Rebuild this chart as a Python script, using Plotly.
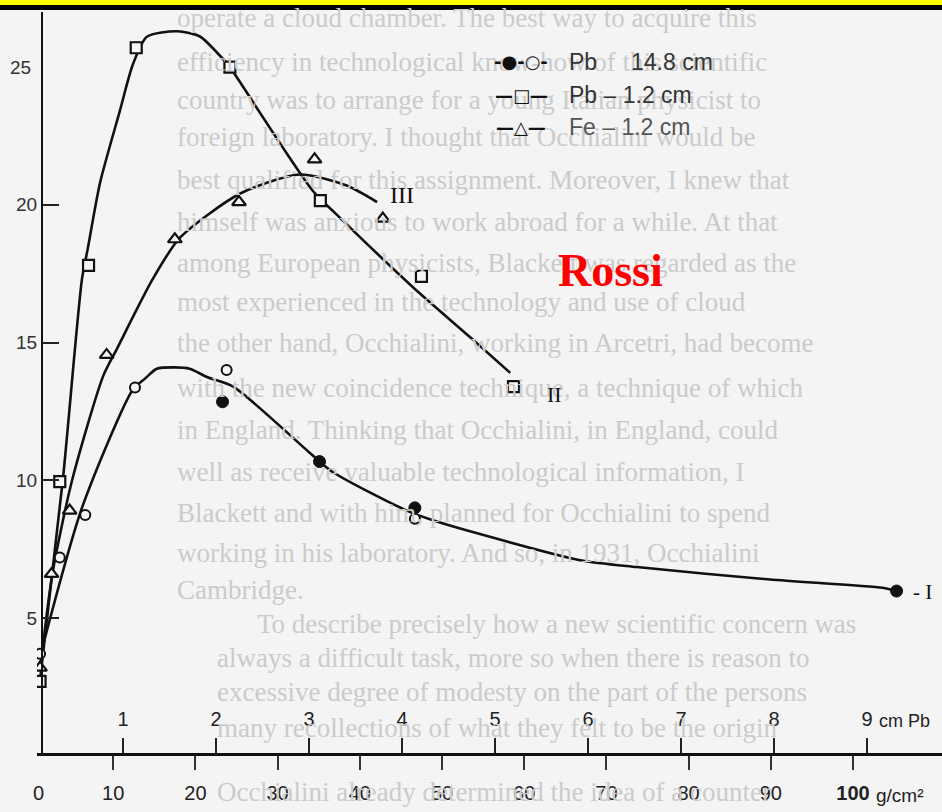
import plotly.graph_objects as go

W, H = 942, 812

# ---------------- data (x in g/cm^2) ----------------
# Pb - 1.2 cm (squares, curve II)
sq_x = [1.1, 3.5, 7.0, 12.8, 24.2, 35.2, 47.5, 58.7]
sq_y = [2.7, 9.95, 17.8, 25.7, 25.0, 20.15, 17.4, 13.4]
# Fe - 1.2 cm (triangles, curve III)
tri_x = [1.1, 2.5, 4.7, 9.2, 17.5, 25.3, 34.5, 42.8]
tri_y = [3.2, 6.6, 8.9, 14.55, 18.75, 20.1, 21.65, 19.5]
# Pb 14.8 cm (open and filled circles, curve I)
oc_x = [1.1, 3.5, 6.6, 12.65, 23.8, 46.7]
oc_y = [3.7, 7.2, 8.74, 13.37, 14.0, 8.6]
fc_x = [23.3, 35.1, 46.7, 105.3]
fc_y = [12.85, 10.68, 9.0, 5.98]

# hand-drawn smooth curves through the points
c2_x = [1.1, 3.9, 6.2, 6.9, 8.4, 10.8, 12.4, 14.1, 17.8, 20.6, 22.7, 24.2, 25.1, 34.3, 37.0, 46.5, 53.4, 58.3]
c2_y = [2.75, 10.1, 17.3, 18.4, 20.8, 23.4, 25.1, 26.1, 26.3, 26.1, 25.5, 25.0, 24.6, 20.5, 19.7, 17.0, 15.2, 13.9]
c3_x = [1.1, 2.6, 5.0, 8.8, 10.5, 14.8, 18.1, 25.4, 32.7, 38.4, 42.1]
c3_y = [3.1, 6.6, 10.0, 13.8, 14.8, 17.3, 18.8, 20.4, 21.1, 20.7, 20.1]
c1_x = [1.1, 6.2, 12.4, 13.9, 15.3, 17.5, 19.3, 21.4, 24.6, 33.9, 36.7, 45.7, 48.9, 53.4, 66.8, 73.7, 89.9, 103.6, 105.3]
c1_y = [3.6, 9.0, 13.3, 13.7, 14.05, 14.1, 14.05, 13.75, 13.4, 11.0, 10.3, 8.9, 8.55, 8.15, 7.1, 6.85, 6.4, 6.1, 5.98]

# axes
g_ticks = [10, 20, 30, 40, 50, 60, 70, 80, 90, 100]
cm_ticks = [1, 2, 3, 4, 5, 6, 7, 8, 9]
y_ticks = [5, 10, 15, 20]

legend_sym = ["<b>-●-○-</b>", "<b>—□—</b>", "<b>—△—</b>"]
legend_mat = ["Pb", "Pb – 1.2 cm", "Fe – 1.2 cm"]
legend_thk = ["14.8 cm", "", ""]

# faint text of the scanned book page behind the figure
page_lines = [
    "operate a cloud chamber. The best way to acquire this",
    "efficiency in technological know-how of this scientific",
    "country was to arrange for a young Italian physicist to",
    "foreign laboratory. I thought that Occhialini would be",
    "best qualified for this assignment. Moreover, I knew that",
    "himself was anxious to work abroad for a while. At that",
    "among European physicists, Blackett was regarded as the",
    "most experienced in the technology and use of cloud",
    "the other hand, Occhialini, working in Arcetri, had become",
    "with the new coincidence technique, a technique of which",
    "in England. Thinking that Occhialini, in England, could",
    "well as receive valuable technological information, I",
    "Blackett and with him, planned for Occhialini to spend",
    "working in his laboratory. And so, in 1931, Occhialini",
    "Cambridge.",
    "To describe precisely how a new scientific concern was",
    "always a difficult task, more so when there is reason to",
    "excessive degree of modesty on the part of the persons",
    "many recollections of what they felt to be the origin",
    "Occhialini already determined the idea of a counter",
]
page_y = [18, 62, 100, 137, 180, 222, 263, 302, 343, 388, 430, 472, 513, 553, 590, 624, 658, 692, 728, 792]
page_x = [175, 175, 175, 175, 175, 175, 175, 175, 175, 175, 175, 175, 175, 175, 175, 255, 215, 215, 215, 215]

# ---------------- figure ----------------
x0_px, x1_px = 37, 942
yb_px, yt_px = 753, 12

fig = go.Figure()

line_style = dict(color="#111", width=2.6, shape="spline", smoothing=0.7)
fig.add_trace(go.Scatter(x=c1_x, y=c1_y, mode="lines", line=line_style, hoverinfo="skip", showlegend=False))
fig.add_trace(go.Scatter(x=c2_x, y=c2_y, mode="lines", line=line_style, hoverinfo="skip", showlegend=False))
fig.add_trace(go.Scatter(x=c3_x, y=c3_y, mode="lines", line=line_style, hoverinfo="skip", showlegend=False))

fig.add_trace(go.Scatter(x=sq_x, y=sq_y, mode="markers", name="Pb – 1.2 cm",
                         marker=dict(symbol="square", size=11, color="#f6f6f6", line=dict(color="#111", width=2.2))))
fig.add_trace(go.Scatter(x=tri_x, y=tri_y, mode="markers", name="Fe – 1.2 cm",
                         marker=dict(symbol="triangle-up", size=12, color="#f6f6f6", line=dict(color="#111", width=2.2))))
fig.add_trace(go.Scatter(x=oc_x, y=oc_y, mode="markers", name="Pb 14.8 cm",
                         marker=dict(symbol="circle", size=10, color="#f6f6f6", line=dict(color="#111", width=2))))
fig.add_trace(go.Scatter(x=fc_x, y=fc_y, mode="markers", name="Pb 14.8 cm",
                         marker=dict(symbol="circle", size=12, color="#111", line=dict(color="#111", width=1))))
# invisible trace for the cm Pb axis
fig.add_trace(go.Scatter(x=[cm_ticks[0]], y=[None], xaxis="x2", yaxis="y", mode="markers",
                         showlegend=False, hoverinfo="skip"))

tick_font = dict(family="Liberation Sans Narrow, Liberation Sans, Arial", size=20, color="#222")

xr0 = (x0_px - 31) / 8.22
xr1 = (x1_px - 31) / 8.22
cr0 = (x0_px - 30) / 93.0
cr1 = (x1_px - 30) / 93.0
yr0 = (755.8 - yb_px) / 27.55
yr1 = (755.8 - yt_px) / 27.55

g_text = [str(v) for v in g_ticks]
g_text[-1] = "<b>100</b>"

fig.update_layout(
    width=W, height=H,
    margin=dict(l=0, r=0, t=0, b=0),
    paper_bgcolor="#f4f4f4",
    plot_bgcolor="rgba(0,0,0,0)",
    showlegend=False,
    xaxis=dict(domain=[x0_px / W, 1], range=[xr0, xr1], tickvals=g_ticks,
               ticktext=g_text, ticks="outside", ticklen=14, tickwidth=1.5,
               tickcolor="#333", showline=True, linecolor="#111", linewidth=3,
               showgrid=False, zeroline=False, tickfont=tick_font, anchor="y",
               ticklabelstandoff=6),
    xaxis2=dict(overlaying="x", anchor="y", side="bottom", range=[cr0, cr1], tickvals=cm_ticks,
                ticktext=[str(v) for v in cm_ticks], ticks="inside", ticklen=15, tickwidth=1.5,
                tickcolor="#222", showline=False, showgrid=False, zeroline=False,
                ticklabelposition="inside", ticklabelstandoff=9, tickfont=tick_font),
    yaxis=dict(domain=[(H - yb_px) / H, (H - yt_px) / H], range=[yr0, yr1], anchor="free",
               position=42 / W, tickvals=y_ticks, ticktext=[str(v) for v in y_ticks],
               ticks="inside", ticklen=16, tickwidth=1.5, tickcolor="#222",
               showline=True, linecolor="#111", linewidth=2, showgrid=False, zeroline=False,
               tickfont=dict(family="Liberation Sans Narrow, Liberation Sans, Arial", size=19, color="#333")),
)

anns = []
for t, yp, xp in zip(page_lines, page_y, page_x):
    anns.append(dict(text=t, xref="paper", yref="paper", x=xp / W, y=1 - yp / H, xanchor="left",
                     yanchor="middle", showarrow=False,
                     font=dict(family="Liberation Serif", size=27, color="#cbcbcb")))
# tick label extras
anns.append(dict(text="25", xref="paper", yref="y", x=33 / W, y=25, xanchor="right", yanchor="middle",
                 showarrow=False, font=dict(family="Liberation Sans Narrow, Liberation Sans", size=19, color="#333")))
anns.append(dict(text="0", xref="paper", yref="paper", x=38 / W, y=1 - 793 / H, xanchor="center",
                 yanchor="middle", showarrow=False, font=tick_font))
anns.append(dict(text="g/cm²", xref="paper", yref="paper", x=874 / W, y=1 - 795 / H, xanchor="left",
                 yanchor="middle", showarrow=False,
                 font=dict(family="Liberation Sans", size=19, color="#222")))
anns.append(dict(text="cm Pb", xref="paper", yref="paper", x=877 / W, y=1 - 721 / H, xanchor="left",
                 yanchor="middle", showarrow=False,
                 font=dict(family="Liberation Sans", size=18, color="#222")))
# curve labels
anns.append(dict(text="III", x=45.1, y=20.35, xref="x", yref="y", xanchor="center", yanchor="middle",
                 showarrow=False, font=dict(family="Liberation Serif", size=24, color="#111")))
anns.append(dict(text="II", x=63.7, y=13.1, xref="x", yref="y", xanchor="center", yanchor="middle",
                 showarrow=False, font=dict(family="Liberation Serif", size=22, color="#111")))
anns.append(dict(text="- I", x=107.0, y=5.95, xref="x", yref="y", xanchor="left", yanchor="middle",
                 showarrow=False, font=dict(family="Liberation Serif", size=21, color="#111")))
# legend
for i in range(3):
    yy = 1 - [62, 95, 127][i] / H
    anns.append(dict(text=legend_sym[i], xref="paper", yref="paper", x=521 / W, y=yy, xanchor="center",
                     yanchor="middle", showarrow=False,
                     font=dict(family="DejaVu Sans", size=18, color="#111")))
    col = "#333" if i < 2 else "#555"
    anns.append(dict(text=legend_mat[i], xref="paper", yref="paper", x=567 / W, y=yy, xanchor="left",
                     yanchor="middle", showarrow=False,
                     font=dict(family="Liberation Sans", size=23, color=col)))
    if legend_thk[i]:
        anns.append(dict(text=legend_thk[i], xref="paper", yref="paper", x=629 / W, y=yy, xanchor="left",
                         yanchor="middle", showarrow=False,
                         font=dict(family="Liberation Sans", size=23, color=col)))
# red overlay label
anns.append(dict(text="<b>Rossi</b>", xref="paper", yref="paper", x=610 / W, y=1 - 270 / H, xanchor="center",
                 yanchor="middle", showarrow=False, font=dict(family="Liberation Serif", size=46, color="#ff0000")))
fig.update_layout(annotations=anns)

# top frame bands (yellow + black)
fig.add_shape(type="rect", xref="paper", yref="paper", x0=0, x1=1, y0=1 - 5 / H, y1=1,
              fillcolor="#ffff00", line=dict(width=0), layer="above")
fig.add_shape(type="rect", xref="paper", yref="paper", x0=0, x1=1, y0=1 - 10 / H, y1=1 - 5 / H,
              fillcolor="#000000", line=dict(width=0), layer="above")

fig.write_html("out.html")
